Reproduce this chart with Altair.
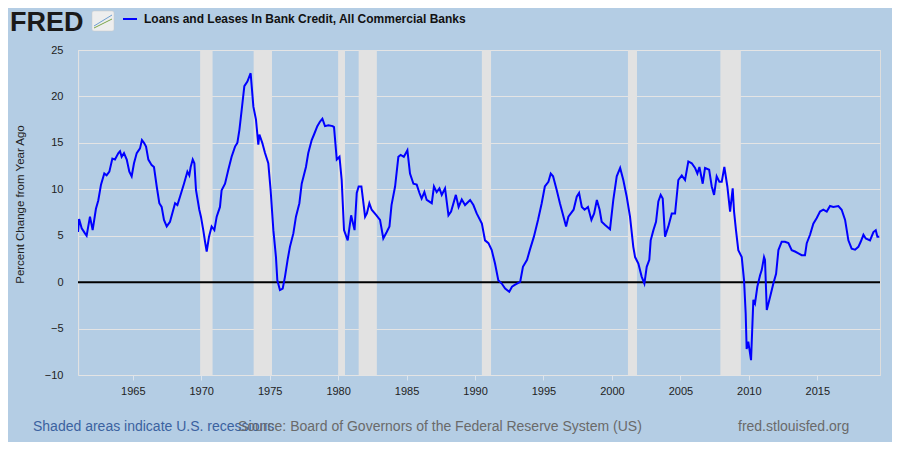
import altair as alt
import pandas as pd

# ---------------- data ----------------
years = [
    1961.0, 1961.08, 1961.27, 1961.51, 1961.63, 1961.875, 1962.07, 1962.31, 1962.48, 1962.68,
    1962.92, 1963.09, 1963.29, 1963.51, 1963.70, 1963.95, 1964.07, 1964.19, 1964.36, 1964.56,
    1964.75, 1964.92, 1965.09, 1965.29, 1965.53, 1965.67, 1965.82, 1965.97, 1966.14, 1966.38,
    1966.55, 1966.75, 1966.94, 1967.11, 1967.28, 1967.48, 1967.72, 1967.96, 1968.09, 1968.26,
    1968.45, 1968.74, 1968.99, 1969.13, 1969.23, 1969.38, 1969.50, 1969.62, 1969.86, 1969.98,
    1970.15, 1970.28, 1970.40, 1970.57, 1970.76, 1970.96, 1971.13, 1971.37, 1971.49, 1971.74,
    1971.98, 1972.22, 1972.47, 1972.64, 1972.79, 1972.96, 1973.15, 1973.37, 1973.61, 1973.81,
    1974.00, 1974.17, 1974.25, 1974.46, 1974.66, 1974.90, 1975.07, 1975.27, 1975.46, 1975.56,
    1975.75, 1975.95, 1976.12, 1976.31, 1976.48, 1976.73, 1976.92, 1977.17, 1977.34, 1977.65,
    1977.82, 1978.07, 1978.24, 1978.48, 1978.68, 1978.85, 1979.04, 1979.29, 1979.60, 1979.70,
    1979.90, 1980.10, 1980.26, 1980.43, 1980.70, 1980.95, 1981.20, 1981.36, 1981.50, 1981.70,
    1981.97, 1982.10, 1982.28, 1982.45, 1982.80, 1983.06, 1983.30, 1983.55, 1983.75, 1983.90,
    1984.16, 1984.40, 1984.57, 1984.80, 1985.06, 1985.25, 1985.50, 1985.74, 1985.94, 1986.10,
    1986.30, 1986.47, 1986.84, 1987.00, 1987.20, 1987.40, 1987.57, 1987.81, 1988.06, 1988.25,
    1988.60, 1988.80, 1989.03, 1989.27, 1989.64, 1989.88, 1990.12, 1990.50, 1990.73, 1990.98,
    1991.22, 1991.46, 1991.70, 1991.95, 1992.20, 1992.50, 1992.70, 1992.90, 1993.30, 1993.50,
    1993.80, 1994.00, 1994.30, 1994.60, 1994.87, 1995.10, 1995.36, 1995.53, 1995.70, 1995.97,
    1996.20, 1996.40, 1996.65, 1996.82, 1997.20, 1997.43, 1997.60, 1997.80, 1998.00, 1998.25,
    1998.50, 1998.70, 1998.90, 1999.10, 1999.25, 1999.50, 1999.86, 2000.10, 2000.35, 2000.60,
    2000.83, 2001.08, 2001.32, 2001.56, 2001.69, 2001.93, 2002.17, 2002.37, 2002.54, 2002.73,
    2002.83, 2003.03, 2003.22, 2003.39, 2003.56, 2003.71, 2003.88, 2004.12, 2004.37, 2004.61,
    2004.85, 2005.10, 2005.34, 2005.58, 2005.83, 2006.07, 2006.24, 2006.39, 2006.63, 2006.80,
    2007.10, 2007.29, 2007.46, 2007.65, 2007.85, 2008.02, 2008.21, 2008.43, 2008.63, 2008.82,
    2008.92, 2009.06, 2009.23, 2009.48, 2009.65, 2009.77, 2009.84, 2009.96, 2010.16, 2010.33,
    2010.45, 2010.62, 2010.82, 2010.94, 2011.11, 2011.18, 2011.31, 2011.55, 2011.79, 2011.99,
    2012.16, 2012.40, 2012.64, 2012.89, 2013.13, 2013.37, 2013.62, 2013.86, 2014.10, 2014.23,
    2014.47, 2014.71, 2014.96, 2015.20, 2015.44, 2015.69, 2015.93, 2016.17, 2016.54, 2016.78,
    2017.03, 2017.27, 2017.51, 2017.76, 2018.00, 2018.17, 2018.37, 2018.54, 2018.85, 2019.10,
    2019.27, 2019.39, 2019.53,
]
values = [
    5.4, 6.8, 5.8, 5.25, 5.0, 7.05, 5.6, 7.9, 8.8, 10.5,
    11.7, 11.5, 11.9, 13.3, 13.2, 13.9, 14.1, 13.5, 13.9, 13.2,
    11.9, 11.4, 12.8, 13.9, 14.4, 15.3, 15.0, 14.6, 13.2, 12.6,
    12.4, 10.3, 8.5, 8.1, 6.7, 6.0, 6.5, 7.8, 8.5, 8.3,
    9.2, 10.6, 11.9, 11.5, 12.4, 13.2, 12.8, 9.9, 7.8, 7.05,
    5.6, 4.35, 3.3, 4.9, 6.0, 5.6, 7.05, 8.1, 9.9, 10.6,
    12.1, 13.5, 14.6, 15.0, 16.4, 18.6, 21.1, 21.6, 22.5, 18.9,
    17.5, 14.8, 15.9, 15.0, 13.9, 12.8, 9.9, 5.6, 2.7, 0.2,
    -0.86, -0.7, 0.6, 2.4, 3.8, 5.25, 7.05, 8.5, 10.6, 12.4,
    13.9, 15.3, 15.9, 16.8, 17.3, 17.6, 16.8, 16.9, 16.8, 16.7,
    13.2, 13.5, 11.0, 5.6, 4.5, 7.2, 5.6, 9.6, 10.3, 10.3,
    7.05, 7.4, 8.5, 7.8, 7.2, 6.7, 4.7, 5.4, 6.0, 8.3,
    10.3, 13.5, 13.7, 13.5, 14.2, 11.7, 10.6, 10.5, 9.6, 9.0,
    9.7, 8.85, 8.5, 10.3, 9.7, 10.1, 9.4, 10.1, 7.2, 7.6,
    9.4, 8.1, 8.9, 8.3, 8.85, 8.3, 7.4, 6.3, 4.5, 4.2,
    3.45, 2.0, 0.2, -0.15, -0.7, -1.04, -0.5, -0.3, 0.04, 1.65,
    2.4, 3.45, 4.9, 6.7, 8.5, 10.3, 10.8, 11.7, 11.4, 9.9,
    8.5, 7.4, 6.0, 7.05, 7.8, 9.2, 9.6, 8.1, 7.8, 8.1,
    6.7, 7.4, 8.85, 7.8, 6.5, 6.15, 5.7, 8.85, 11.4, 12.3,
    11.0, 9.2, 7.05, 3.8, 2.7, 2.0, 0.6, -0.15, 1.65, 2.4,
    4.5, 5.6, 6.5, 8.7, 9.4, 9.0, 4.9, 6.0, 7.4, 7.4,
    11.0, 11.5, 11.0, 13.0, 12.8, 12.3, 11.7, 12.4, 10.6, 12.3,
    12.1, 10.3, 9.4, 11.4, 10.8, 10.8, 12.4, 10.3, 7.6, 10.1,
    7.6, 5.6, 3.45, 2.7, 0.2, -3.4, -7.2, -6.4, -8.4, -1.9,
    -2.3, -0.5, 0.75, 1.3, 2.7, 2.4, -3.0, -1.6, -0.15, 0.9,
    3.45, 4.35, 4.35, 4.2, 3.45, 3.3, 3.1, 2.9, 2.9, 4.2,
    5.1, 6.3, 6.9, 7.6, 7.8, 7.6, 8.2, 8.1, 8.2, 7.8,
    6.7, 4.5, 3.6, 3.5, 3.8, 4.35, 5.1, 4.7, 4.5, 5.4,
    5.6, 4.9, 4.9,
]
rec_start = [1960.25, 1969.92, 1973.83, 1980.00, 1981.50, 1990.50, 2001.17, 2007.92]
rec_end = [1961.08, 1970.83, 1975.17, 1980.50, 1982.83, 1991.17, 2001.83, 2009.42]
x_ticks = [1965, 1970, 1975, 1980, 1985, 1990, 1995, 2000, 2005, 2010, 2015]
y_ticks = [-10, -5, 0, 5, 10, 15, 20, 25]
x_domain = [1961.0, 2019.58]
y_domain = [-10, 25]

series_name = "Loans and Leases In Bank Credit, All Commercial Banks"
y_title = "Percent Change from Year Ago"
logo_text = "FRED"
note_text = "Shaded areas indicate U.S. recessions"
source_text = "Source: Board of Governors of the Federal Reserve System (US)"
site_text = "fred.stlouisfed.org"

# ---------------- styling ----------------
W, H = 802, 325
BG = "#b4cde4"
FONT = "Liberation Sans"

line_df = pd.DataFrame({"year": years, "value": values})
rec_df = pd.DataFrame({"start": rec_start, "end": rec_end})

xscale = alt.Scale(domain=x_domain, nice=False, zero=False)
yscale = alt.Scale(domain=y_domain, nice=False, zero=False)

xaxis = alt.Axis(values=x_ticks, format="d", title=None, grid=False, domain=False,
                 ticks=True, tickColor="#dce5ee", tickSize=5, labelPadding=5,
                 labelFontSize=11, labelColor="#222222", labelFont=FONT)
yaxis = alt.Axis(values=y_ticks, title=y_title, grid=True, gridColor="#e4e4e4",
                 domain=False, ticks=False, labelPadding=15, labelFontSize=11,
                 labelColor="#222222", labelFont=FONT, titleFont=FONT,
                 titleFontSize=11.5, titleFontWeight="normal", titleColor="#222222",
                 titleX=-58, titleY=154, titleBaseline="middle", titleAlign="center",
                 titleAngle=270)

recessions = alt.Chart(rec_df).mark_rect(color="#e2e2e2", clip=True).encode(
    x=alt.X("start:Q", scale=xscale, axis=xaxis),
    x2="end:Q",
    y=alt.datum(y_domain[1]),
    y2=alt.datum(y_domain[0]),
)

zero_rule = alt.Chart(pd.DataFrame({"z": [0]})).mark_rule(color="black", strokeWidth=2).encode(
    y=alt.Y("z:Q", scale=yscale, axis=yaxis)
)

line = alt.Chart(line_df).mark_line(color="#0000ff", strokeWidth=2, clip=True).encode(
    x=alt.X("year:Q", scale=xscale, axis=xaxis),
    y=alt.Y("value:Q", scale=yscale, axis=yaxis),
)

one = pd.DataFrame({"k": [0]})


def label(text, x, y, size, color, weight="normal", align="left", baseline="alphabetic"):
    return alt.Chart(one).mark_text(
        text=text, font=FONT, fontSize=size, color=color, fontWeight=weight,
        align=align, baseline=baseline,
    ).encode(x=alt.value(x), y=alt.value(y))


logo = label(logo_text, -68, -19, 27, "#1a1a1a", weight="bold")
icon = alt.Chart(one).mark_rect(fill="#eeeeee", stroke="#c8c8c8", strokeWidth=0.5,
                                cornerRadius=2).encode(
    x=alt.value(14), x2=alt.value(36), y=alt.value(-39), y2=alt.value(-19))
icon_l1 = alt.Chart(one).mark_rule(color="#6f9fd0", strokeWidth=1).encode(
    x=alt.value(16), x2=alt.value(34), y=alt.value(-24), y2=alt.value(-35))
icon_l2 = alt.Chart(one).mark_rule(color="#7aa548", strokeWidth=1).encode(
    x=alt.value(16), x2=alt.value(34), y=alt.value(-22), y2=alt.value(-31))
legend_line = alt.Chart(one).mark_rule(color="#0000ff", strokeWidth=2).encode(
    x=alt.value(45), x2=alt.value(59), y=alt.value(-31), y2=alt.value(-31))
legend_text = label(series_name, 66, -27, 12, "#111111", weight="bold")
note = label(note_text, -45, 381, 14, "#3b62a0")
source = label(source_text, 160, 381, 14, "#6a6a6a")
site = label(site_text, 660, 381, 14, "#6a6a6a")

chart = alt.layer(
    recessions, zero_rule, line,
    logo, icon, icon_l1, icon_l2, legend_line, legend_text, note, source, site,
).properties(
    width=W, height=H,
    background=BG,
    padding={"left": 70, "top": 42, "right": 12, "bottom": 67},
    autosize=alt.AutoSizeParams(type="none"),
).configure_view(fill="white", strokeWidth=0).configure(font=FONT)

chart.save("out.html", embed_options={"renderer": "svg", "actions": False})
